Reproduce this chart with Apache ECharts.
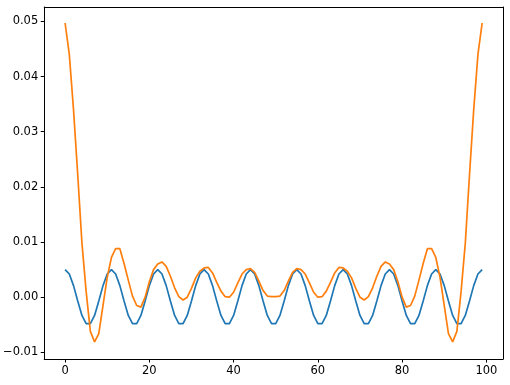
<!DOCTYPE html>
<html>
<head>
<meta charset="utf-8">
<script src="https://cdn.jsdelivr.net/npm/echarts@6/dist/echarts.min.js"></script>
<style>
html,body{margin:0;padding:0;background:#fff;}
#c{width:510px;height:385px;}
</style>
</head>
<body>
<div id="c"></div>
<script>
const xTicks = [0, 20, 40, 60, 80, 100];
const yTicks = [-0.01, 0.00, 0.01, 0.02, 0.03, 0.04, 0.05];

const blue = [
 0.0050, 0.0042, 0.0021, -0.0007, -0.0033, -0.0048, -0.0048, -0.0033, -0.0007, 0.0021, 0.0042,
 0.0050, 0.0042, 0.0021, -0.0007, -0.0033, -0.0048, -0.0048, -0.0033, -0.0007, 0.0021, 0.0042,
 0.0050, 0.0042, 0.0021, -0.0007, -0.0033, -0.0048, -0.0048, -0.0033, -0.0007, 0.0021, 0.0042,
 0.0050, 0.0042, 0.0021, -0.0007, -0.0033, -0.0048, -0.0048, -0.0033, -0.0007, 0.0021, 0.0042,
 0.0050, 0.0042, 0.0021, -0.0007, -0.0033, -0.0048, -0.0048, -0.0033, -0.0007, 0.0021, 0.0042,
 0.0050, 0.0042, 0.0021, -0.0007, -0.0033, -0.0048, -0.0048, -0.0033, -0.0007, 0.0021, 0.0042,
 0.0050, 0.0042, 0.0021, -0.0007, -0.0033, -0.0048, -0.0048, -0.0033, -0.0007, 0.0021, 0.0042,
 0.0050, 0.0042, 0.0021, -0.0007, -0.0033, -0.0048, -0.0048, -0.0033, -0.0007, 0.0021, 0.0042,
 0.0050, 0.0042, 0.0021, -0.0007, -0.0033, -0.0048, -0.0048, -0.0033, -0.0007, 0.0021, 0.0042,
 0.0050
];

const orange = [
 0.0497, 0.0440, 0.0340, 0.0222, 0.0098, 0.0010, -0.0062, -0.0081, -0.0066, -0.0015,
 0.0036, 0.0072, 0.0088, 0.0088, 0.0061, 0.0031, 0.0002, -0.0015, -0.0018, 0.0000,
 0.0028, 0.0050, 0.0060, 0.0064, 0.0056, 0.0038, 0.0017, 0.0001, -0.0005, 0.0000,
 0.0016, 0.0035, 0.0047, 0.0053, 0.0054, 0.0044, 0.0027, 0.0011, 0.0001, 0.0000,
 0.0009, 0.0026, 0.0042, 0.0050, 0.0052, 0.0045, 0.0029, 0.0012, 0.0002, 0.0001,
 0.0001, 0.0002, 0.0012, 0.0029, 0.0045, 0.0052, 0.0050, 0.0042, 0.0026, 0.0009,
 0.0000, 0.0001, 0.0011, 0.0027, 0.0044, 0.0054, 0.0053, 0.0047, 0.0035, 0.0016,
 0.0000, -0.0005, 0.0001, 0.0017, 0.0038, 0.0056, 0.0064, 0.0060, 0.0050, 0.0028,
 0.0000, -0.0018, -0.0015, 0.0002, 0.0031, 0.0061, 0.0088, 0.0088, 0.0072, 0.0036,
 -0.0015, -0.0066, -0.0081, -0.0062, 0.0010, 0.0098, 0.0222, 0.0340, 0.0440, 0.0497
];

const toPairs = arr => arr.map((v, i) => [i, v]);
const fmtY = v => (v < 0 ? '\u2212' : '') + Math.abs(v).toFixed(2);

const XMIN = -4.95, XMAX = 103.95, YMIN = -0.0112, YMAX = 0.0526;
const frameLine = {show: true, onZero: false, lineStyle: {color: '#000', width: 1}};
const labelBase = {color: '#000', fontSize: 11.5, fontFamily: 'DejaVu Sans', margin: 6};

const chart = echarts.init(document.getElementById('c'), null, {renderer: 'canvas'});
chart.setOption({
  animation: false,
  backgroundColor: '#ffffff',
  grid: {left: 42, right: 7, top: 7, bottom: 26},
  xAxis: [{
    type: 'value', min: XMIN, max: XMAX, position: 'bottom',
    axisLine: frameLine,
    splitLine: {show: false},
    axisTick: {show: true, length: 3.5, lineStyle: {color: '#000', width: 1}, customValues: xTicks},
    axisLabel: Object.assign({show: true, customValues: xTicks, formatter: v => String(Math.round(v))}, labelBase)
  }, {
    type: 'value', min: XMIN, max: XMAX, position: 'top',
    axisLine: frameLine, axisTick: {show: false}, axisLabel: {show: false}, splitLine: {show: false}
  }],
  yAxis: [{
    type: 'value', min: YMIN, max: YMAX, position: 'left',
    axisLine: frameLine,
    splitLine: {show: false},
    axisTick: {show: true, length: 3.5, lineStyle: {color: '#000', width: 1}, customValues: yTicks},
    axisLabel: Object.assign({show: true, customValues: yTicks, formatter: v => fmtY(v)}, labelBase)
  }, {
    type: 'value', min: YMIN, max: YMAX, position: 'right',
    axisLine: frameLine, axisTick: {show: false}, axisLabel: {show: false}, splitLine: {show: false}
  }],
  series: [
    {type: 'line', xAxisIndex: 0, yAxisIndex: 0, data: toPairs(blue), showSymbol: false, symbol: 'none',
     lineStyle: {color: '#1f77b4', width: 1.7}, itemStyle: {color: '#1f77b4'}},
    {type: 'line', xAxisIndex: 0, yAxisIndex: 0, data: toPairs(orange), showSymbol: false, symbol: 'none',
     lineStyle: {color: '#ff7f0e', width: 1.7}, itemStyle: {color: '#ff7f0e'}}
  ]
});
</script>
</body>
</html>
